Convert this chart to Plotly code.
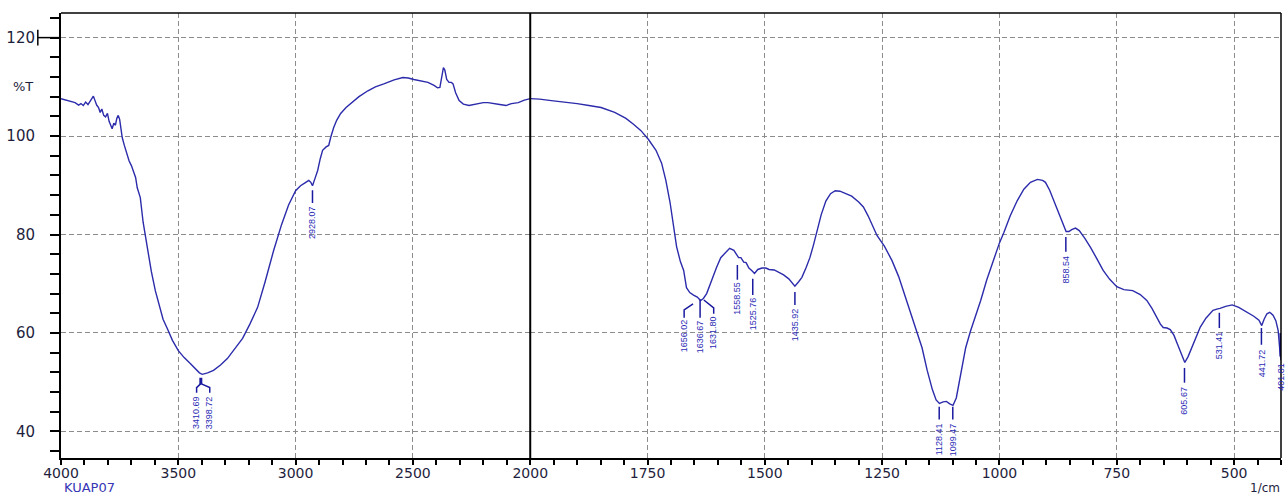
import numpy as np
import plotly.graph_objects as go

# ---------------- DATA ----------------
wavenumber = [
    4000, 3980, 3960, 3940, 3925, 3915, 3905, 3895, 3885, 3875, 3868, 3862, 3855, 3848, 3840,
    3833, 3826, 3818, 3810, 3802, 3795, 3788, 3782, 3775, 3768, 3762, 3756, 3750, 3745, 3739,
    3730, 3720, 3710, 3700, 3690, 3682, 3675, 3662, 3650, 3640, 3632, 3615, 3598, 3580, 3565,
    3547, 3525, 3500, 3475, 3449, 3425, 3410, 3398, 3375, 3350, 3320, 3291, 3260, 3226, 3195,
    3162, 3130, 3094, 3060, 3030, 3000, 2979, 2960, 2944, 2935, 2928, 2918, 2906, 2895, 2885,
    2870, 2859, 2850, 2838, 2825, 2808, 2785, 2765, 2730, 2692, 2660, 2624, 2580, 2543, 2520,
    2496, 2465, 2436, 2410, 2395, 2385, 2378, 2370, 2364, 2356, 2346, 2336, 2329, 2318, 2303,
    2285, 2261, 2230, 2200, 2180, 2160, 2130, 2103, 2080, 2051, 2025, 2000,
    1980, 1955, 1925, 1900, 1875, 1849, 1820, 1796, 1780, 1764, 1748, 1732, 1720, 1711, 1702,
    1694, 1688, 1680, 1673, 1667, 1660, 1652, 1644, 1637, 1631, 1624, 1618, 1610, 1603, 1594,
    1585, 1575, 1566, 1560, 1556, 1551, 1545, 1540, 1534, 1528, 1522, 1515, 1506, 1498, 1491,
    1480, 1470, 1460, 1449, 1442, 1436, 1428, 1421, 1412, 1404, 1396, 1389, 1380, 1370, 1360,
    1350, 1340, 1330, 1315, 1300, 1290, 1280, 1270, 1261, 1245, 1229, 1215, 1205, 1197, 1185,
    1175, 1165, 1154, 1143, 1135, 1128, 1120, 1113, 1106, 1099, 1092, 1087, 1080, 1072, 1062,
    1050, 1040, 1027, 1013, 1000, 991, 977, 962, 948, 934, 919, 908, 902, 893, 887,
    878, 870, 864, 858, 852, 846, 838, 830, 818, 806, 792, 779, 765, 750, 735,
    716, 700, 686, 675, 664, 657, 651, 643, 636, 628, 621, 612, 605, 598, 589,
    580, 572, 560, 545, 535, 530, 518, 504, 490, 472, 458, 447, 441, 436, 430,
    424, 417, 411, 406, 402, 400,
]
transmittance = [
    107.6, 107.3, 107.1, 106.8, 106.3, 106.6, 106.2, 106.9, 106.4, 107.2, 107.8, 108.1, 107.2, 106.3, 105.8,
    104.8, 105.5, 104.2, 103.9, 104.6, 103.0, 102.2, 101.5, 102.6, 102.2, 103.6, 104.2, 103.4, 101.4, 99.7,
    98.1, 96.4, 95.0, 94.0, 92.6, 91.6, 89.5, 87.5, 82.5, 79.5, 76.7, 72.5, 68.6, 65.3, 62.8,
    60.9, 58.5, 56.4, 55.0, 53.8, 52.6, 51.9, 51.6, 51.9, 52.4, 53.5, 54.8, 56.7, 58.9, 61.8,
    65.2, 70.4, 76.7, 82.0, 86.0, 88.9, 89.9, 90.5, 91.0, 90.6, 89.9, 91.3, 93.0, 95.4, 97.1,
    97.8, 98.1, 99.8, 101.7, 103.2, 104.6, 105.8, 106.6, 108.0, 109.2, 110.0, 110.6, 111.4, 111.9, 111.8,
    111.5, 111.2, 110.9, 110.3, 109.8, 109.9, 111.5, 113.9, 113.4, 111.5, 110.9, 110.9, 110.6, 108.8, 107.2,
    106.5, 106.2, 106.5, 106.8, 106.8, 106.6, 106.4, 106.2, 106.6, 106.8, 107.3, 107.6,
    107.5, 107.2, 106.9, 106.6, 106.2, 105.8, 104.8, 103.6, 102.4, 101.1, 99.3, 97.1, 94.5, 91.0, 86.5,
    80.8, 77.5, 74.5, 72.7, 69.2, 68.2, 67.7, 67.3, 66.6, 67.0, 68.0, 69.5, 71.8, 73.3, 75.3,
    76.3, 77.2, 76.8, 76.0, 75.3, 75.3, 74.4, 74.3, 73.2, 72.7, 72.1, 72.9, 73.2, 73.2, 72.9,
    72.8, 72.3, 71.8, 71.0, 70.3, 69.5, 70.4, 71.3, 73.3, 75.3, 78.0, 80.8, 84.0, 86.8, 88.3,
    88.9, 88.8, 88.4, 87.8, 86.6, 85.6, 83.8, 81.8, 79.8, 77.6, 74.7, 71.5, 68.6, 66.6, 63.0,
    60.3, 57.0, 52.4, 48.5, 46.4, 45.7, 46.0, 46.1, 45.6, 45.3, 46.8, 49.5, 53.0, 57.0, 60.3,
    63.6, 66.6, 70.8, 74.7, 78.3, 80.3, 83.8, 86.9, 89.2, 90.6, 91.2, 91.0, 90.6, 89.0, 87.5,
    85.5, 83.3, 81.8, 80.6, 80.6, 81.0, 81.3, 80.8, 79.2, 77.4, 75.0, 72.7, 70.9, 69.4, 68.8,
    68.6, 67.8, 66.6, 65.0, 63.1, 61.8, 61.1, 61.0, 60.7, 59.5, 57.8, 55.5, 54.0, 55.2, 57.3,
    59.5, 61.2, 63.0, 64.6, 64.9, 65.0, 65.4, 65.7, 65.2, 64.2, 63.4, 62.6, 61.5, 62.8, 63.9,
    64.2, 63.6, 62.5, 60.5, 56.0, 54.5,
]

peak_labels = ["3410.69", "3398.72", "2928.07", "1656.02", "1636.67", "1631.80", "1558.55",
               "1525.76", "1435.92", "1128.41", "1099.47", "858.54", "605.67", "531.41",
               "441.72", "401.81"]

left_ticks = [4000, 3500, 3000, 2500, 2000]
right_ticks = [1750, 1500, 1250, 1000, 750, 500]
y_ticks = [40, 60, 80, 100, 120]

# ---------------- STYLE / LABEL GEOMETRY ----------------
# per label: tick path (x list, y list), text position (x, top y)
label_geom = {
    "3410.69": ([3404, 3422, 3422], [49.7, 48.9, 47.85], 3422, 47.4),
    "3398.72": ([3404, 3366, 3366], [49.7, 48.9, 47.85], 3366, 47.4),
    "2928.07": ([2928.07, 2928.07], [89.0, 86.4], 2928.07, 86.0),
    "1656.02": ([1653, 1672, 1672], [65.9, 64.7, 63.1], 1672, 62.9),
    "1636.67": ([1638, 1638], [66.7, 63.1], 1638, 62.7),
    "1631.80": ([1630, 1609, 1609], [66.7, 65.1, 63.9], 1609, 63.7),
    "1558.55": ([1558.55, 1558.55], [73.8, 70.8], 1558.55, 70.6),
    "1525.76": ([1525.76, 1525.76], [71.0, 67.7], 1525.76, 67.5),
    "1435.92": ([1435.92, 1435.92], [68.3, 65.7], 1435.92, 65.3),
    "1128.41": ([1128.41, 1128.41], [45.0, 42.4], 1128.41, 41.9),
    "1099.47": ([1099.47, 1099.47], [45.0, 42.4], 1099.47, 41.9),
    "858.54": ([858.54, 858.54], [79.5, 76.5], 858.54, 75.9),
    "605.67": ([605.67, 605.67], [52.9, 49.9], 605.67, 49.4),
    "531.41": ([531.41, 531.41], [64.1, 61.0], 531.41, 60.6),
    "441.72": ([441.72, 441.72], [61.0, 57.6], 441.72, 57.0),
    "401.81": ([401.6, 401.6], [60.0, 55.2], 401.6, 54.2),
}

CURVE = "#2b2bab"
TICKBLUE = "#1a1aa0"
LABELBLUE = "#2a2ab4"
AXISTXT = "#1e1e3c"
GRID = "#8c8c8c"

wn = np.array(wavenumber, dtype=float)
tr = np.array(transmittance, dtype=float)
left = wn >= 2000
right = wn <= 2000

split = 2000.0 / (2000.0 + 2 * 1600.0)

fig = go.Figure()
fig.add_trace(go.Scatter(x=wn[left], y=tr[left], mode="lines", xaxis="x", yaxis="y",
                         line=dict(color=CURVE, width=1.4), showlegend=False, hoverinfo="skip"))
fig.add_trace(go.Scatter(x=wn[right], y=tr[right], mode="lines", xaxis="x2", yaxis="y",
                         line=dict(color=CURVE, width=1.4), showlegend=False, hoverinfo="skip"))

# peak marker ticks
lx, ly, rx, ry = [], [], [], []
for lab in peak_labels:
    xs, ys, tx, ty = label_geom[lab]
    if xs[0] >= 2000:
        lx += list(xs) + [None]; ly += list(ys) + [None]
    else:
        rx += list(xs) + [None]; ry += list(ys) + [None]
fig.add_trace(go.Scatter(x=lx, y=ly, mode="lines", xaxis="x", yaxis="y",
                         line=dict(color=TICKBLUE, width=1.5), showlegend=False, hoverinfo="skip"))
fig.add_trace(go.Scatter(x=rx, y=ry, mode="lines", xaxis="x2", yaxis="y",
                         line=dict(color=TICKBLUE, width=1.5), showlegend=False, hoverinfo="skip"))
# thick stem of the 3400 doublet
fig.add_trace(go.Scatter(x=[3404, 3404], y=[50.9, 49.6], mode="lines", xaxis="x", yaxis="y",
                         line=dict(color=TICKBLUE, width=3), showlegend=False, hoverinfo="skip"))

annotations = []
for lab in peak_labels:
    xs, ys, tx, ty = label_geom[lab]
    annotations.append(dict(
        x=tx, y=ty, xref="x" if tx >= 2000 else "x2", yref="y",
        text=lab, textangle=-90, showarrow=False, xanchor="center", yanchor="top",
        borderpad=0, font=dict(family="Liberation Sans", size=9, color=LABELBLUE)))

annotations += [
    dict(x=-0.031, y=110, xref="paper", yref="y", text="%T", showarrow=False,
         xanchor="center", yanchor="middle",
         font=dict(family="DejaVu Sans", size=13, color=AXISTXT)),
    dict(x=0.002, y=-0.0855, xref="paper", yref="paper", text="KUAP07", showarrow=False,
         xanchor="left", yanchor="bottom", borderpad=0,
         font=dict(family="DejaVu Sans", size=13, color="#3535b5")),
    dict(x=1.0, y=-0.0855, xref="paper", yref="paper", text="1/cm", showarrow=False,
         xanchor="right", yanchor="bottom", borderpad=0,
         font=dict(family="DejaVu Sans", size=12, color=AXISTXT)),
]

tickfont = dict(family="DejaVu Sans", size=14, color=AXISTXT)
common_x = dict(showgrid=True, gridcolor=GRID, griddash="5px,3px", gridwidth=1,
                showline=True, linecolor="black", linewidth=2, zeroline=False,
                ticks="outside", ticklen=5, tickwidth=1.5, tickcolor="black",
                ticklabelstandoff=-4,
                tickfont=tickfont, anchor="y", fixedrange=True, automargin=False)

fig.update_layout(
    width=1287, height=496,
    margin=dict(l=61, r=6, t=13, b=38, autoexpand=False),
    paper_bgcolor="white", plot_bgcolor="white",
    hovermode=False,
    xaxis=dict(domain=[0, split], range=[4000, 2000], tickmode="array", tickvals=left_ticks,
               ticktext=[str(v) for v in left_ticks],
               minor=dict(tickmode="linear", tick0=0, dtick=100, ticks="outside", ticklen=5,
                          tickwidth=1.5, tickcolor="black", showgrid=False),
               **common_x),
    xaxis2=dict(domain=[split, 1], range=[2000, 400], tickmode="array", tickvals=right_ticks,
                ticktext=[str(v) for v in right_ticks],
                minor=dict(tickmode="linear", tick0=0, dtick=50, ticks="outside", ticklen=5,
                           tickwidth=1.5, tickcolor="black", showgrid=False),
                **common_x),
    yaxis=dict(domain=[0, 1], range=[34.6, 125.0], tickmode="array", tickvals=y_ticks,
               ticktext=[str(v) for v in y_ticks],
               minor=dict(tickmode="linear", tick0=0, dtick=4, ticks="outside", ticklen=9,
                          tickwidth=1.5, tickcolor="black", showgrid=False),
               showgrid=True, gridcolor=GRID, griddash="5px,3px", gridwidth=1,
               showline=True, linecolor="black", linewidth=2, zeroline=False,
               ticks="outside", ticklen=9, tickwidth=1.5, tickcolor="black",
               ticklabelstandoff=12,
               tickfont=dict(family="DejaVu Sans", size=15, color=AXISTXT),
               anchor="x", fixedrange=True, automargin=False),
    annotations=annotations,
    shapes=[
        dict(type="line", xref="paper", yref="paper", x0=split, x1=split, y0=0, y1=1,
             line=dict(color="black", width=2)),
        dict(type="line", xref="paper", yref="paper", x0=0, x1=1, y0=1, y1=1,
             line=dict(color="black", width=1.5)),
        dict(type="line", xref="paper", yref="paper", x0=1, x1=1, y0=0, y1=1,
             line=dict(color="black", width=1.5)),
        dict(type="line", xref="paper", yref="y", x0=-0.019, x1=0, y0=120, y1=120,
             line=dict(color="black", width=1.5)),
        dict(type="line", xref="paper", yref="y", x0=-0.019, x1=-0.019, y0=118.4, y1=121.6,
             line=dict(color="black", width=1.5)),
    ],
)

fig.write_html("out.html", config={"displayModeBar": False},
               post_script="document.body.style.margin='0px';document.body.style.overflow='hidden';")
